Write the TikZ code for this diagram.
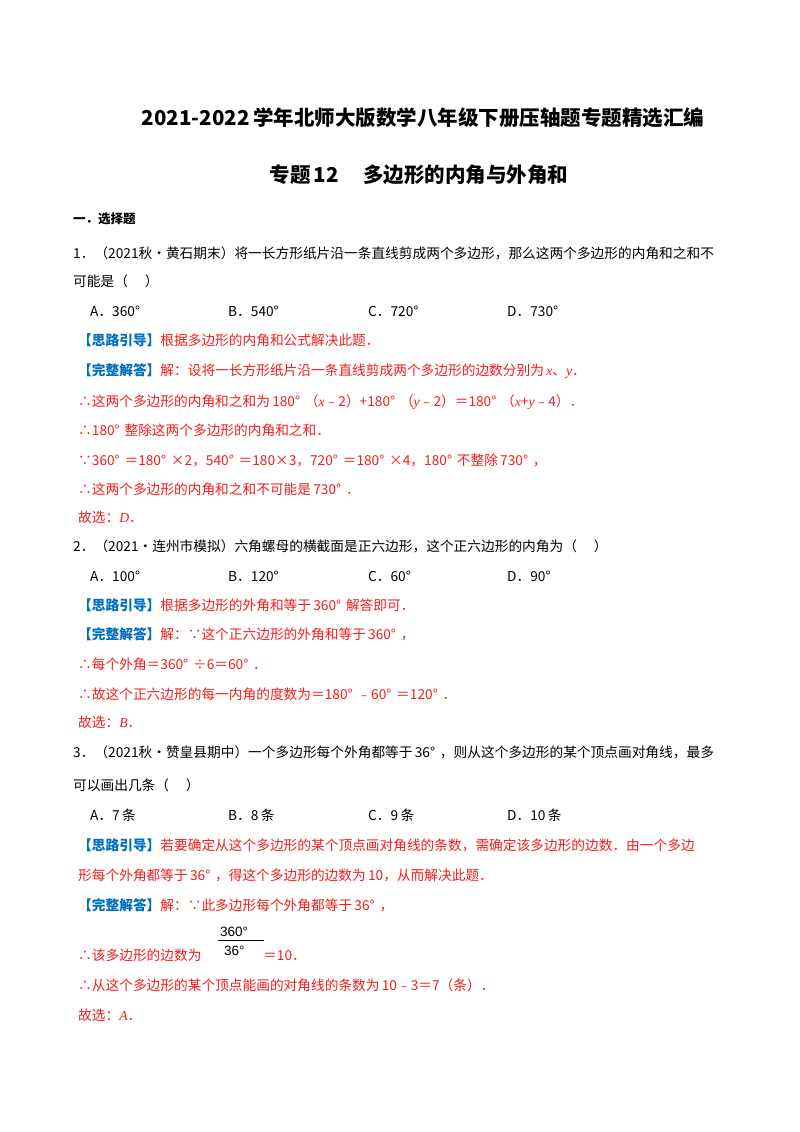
\documentclass[tikz,border=0pt]{standalone}
\usepackage{fontspec}
\setmainfont{Noto Sans CJK SC}
\newfontfamily\latf{Liberation Serif}
\newfontfamily\sansf{Liberation Sans}
\definecolor{rd}{RGB}{240,30,30}
\definecolor{bl}{RGB}{0,110,190}
\tikzset{tx/.style={anchor=base west,inner sep=0pt,font=\fontsize{13.7}{13.7}\selectfont}}
\newcommand\T[4]{\node[tx] (#1) at (#2pt,-#3pt) {#4};}
\newcommand\B[1]{\textcolor{bl}{\bfseries #1}}
\newcommand\dg{°\hspace{0.35em}}
\begin{document}
\begin{tikzpicture}
\useasboundingbox (0,0) rectangle (800pt,-1132pt);
\fill[white] (0,0) rectangle (800pt,-1132pt);
\node[anchor=base,inner sep=0pt,font=\fontsize{20.5}{20.5}\selectfont\bfseries] (title) at (423pt,-125pt) {2021-2022\,学年北师大版数学八年级下册压轴题专题精选汇编};
\node[anchor=base,inner sep=0pt,font=\fontsize{20.5}{20.5}\selectfont\bfseries] (sub) at (419pt,-182pt) {专题\,12\hspace{1.2em}多边形的内角与外角和};
\node[tx,font=\fontsize{12.5}{12.5}\selectfont\bfseries] (sec) at (73pt,-223pt) {一．选择题};
\T{q1}{73}{258}{1．（2021秋•黄石期末）将一长方形纸片沿一条直线剪成两个多边形，那么这两个多边形的内角和之和不}
\T{q1b}{73}{286}{可能是（\quad\ ）}
\T{q1a}{90}{316}{A．360\dg}
\T{q1bb}{228}{316}{B．540\dg}
\T{q1c}{368}{316}{C．720\dg}
\T{q1d}{507}{316}{D．730\dg}
\begin{scope}[color=rd]
\T{r1}{78}{345}{\B{【思路引导】}根据多边形的内角和公式解决此题．}
\T{r2}{78}{375}{\B{【完整解答】}解：设将一长方形纸片沿一条直线剪成两个多边形的边数分别为\,{\latf\itshape x}、{\latf\itshape y}．}
\T{r3}{78}{406}{∴这两个多边形的内角和之和为\,180\dg（{\latf\itshape x}﹣2）+180\dg（{\latf\itshape y}﹣2）＝180\dg（{\latf\itshape x}+{\latf\itshape y}﹣4）．}
\T{r4}{78}{435}{∴180\dg 整除这两个多边形的内角和之和．}
\T{r5}{78}{465}{∵360\dg＝180\dg×2，540\dg＝180×3，720\dg＝180\dg×4，180\dg 不整除\,730\dg，}
\T{r6}{78}{494}{∴这两个多边形的内角和之和不可能是\,730\dg．}
\T{r7}{78}{522}{故选：{\latf\itshape D}．}
\end{scope}
\T{q2}{73}{551}{2．（2021•连州市模拟）六角螺母的横截面是正六边形，这个正六边形的内角为（\quad\ ）}
\T{q2a}{90}{581}{A．100\dg}
\T{q2b}{228}{581}{B．120\dg}
\T{q2c}{368}{581}{C．60\dg}
\T{q2d}{507}{581}{D．90\dg}
\begin{scope}[color=rd]
\T{s1}{78}{610}{\B{【思路引导】}根据多边形的外角和等于\,360\dg 解答即可．}
\T{s2}{78}{639}{\B{【完整解答】}解：∵这个正六边形的外角和等于\,360\dg，}
\T{s3}{78}{669}{∴每个外角＝360\dg÷6＝60\dg．}
\T{s4}{78}{699}{∴故这个正六边形的每一内角的度数为＝180\dg﹣60\dg＝120\dg．}
\T{s5}{78}{727}{故选：{\latf\itshape B}．}
\end{scope}
\T{q3}{73}{757}{3．（2021秋•赞皇县期中）一个多边形每个外角都等于\,36\dg，则从这个多边形的某个顶点画对角线，最多}
\T{q3b}{73}{790}{可以画出几条（\quad\ ）}
\T{q3a}{90}{820}{A．7\,条}
\T{q3bb}{228}{820}{B．8\,条}
\T{q3c}{368}{820}{C．9\,条}
\T{q3d}{507}{820}{D．10\,条}
\begin{scope}[color=rd]
\T{u1}{78}{850}{\B{【思路引导】}若要确定从这个多边形的某个顶点画对角线的条数，需确定该多边形的边数．由一个多边}
\T{u2}{78}{880}{形每个外角都等于\,36\dg，得这个多边形的边数为\,10，从而解决此题．}
\T{u3}{78}{910}{\B{【完整解答】}解：∵此多边形每个外角都等于\,36\dg，}
\T{u4}{78}{960}{∴该多边形的边数为}
\T{u5}{263}{960}{＝10．}
\T{u6}{78}{990}{∴从这个多边形的某个顶点能画的对角线的条数为\,10﹣3＝7（条）．}
\T{u7}{78}{1020}{故选：{\latf\itshape A}．}
\end{scope}
\node[anchor=base west,inner sep=0pt,font=\sansf\fontsize{13.5}{13.5}\selectfont] (fn) at (220pt,-936pt) {360°};
\node[anchor=base west,inner sep=0pt,font=\sansf\fontsize{13.5}{13.5}\selectfont] (fd) at (224pt,-955pt) {36°};
\draw[line width=0.8pt] (218pt,-940pt) coordinate (fa) -- (264pt,-940pt) coordinate (fb);
\end{tikzpicture}
\end{document}
